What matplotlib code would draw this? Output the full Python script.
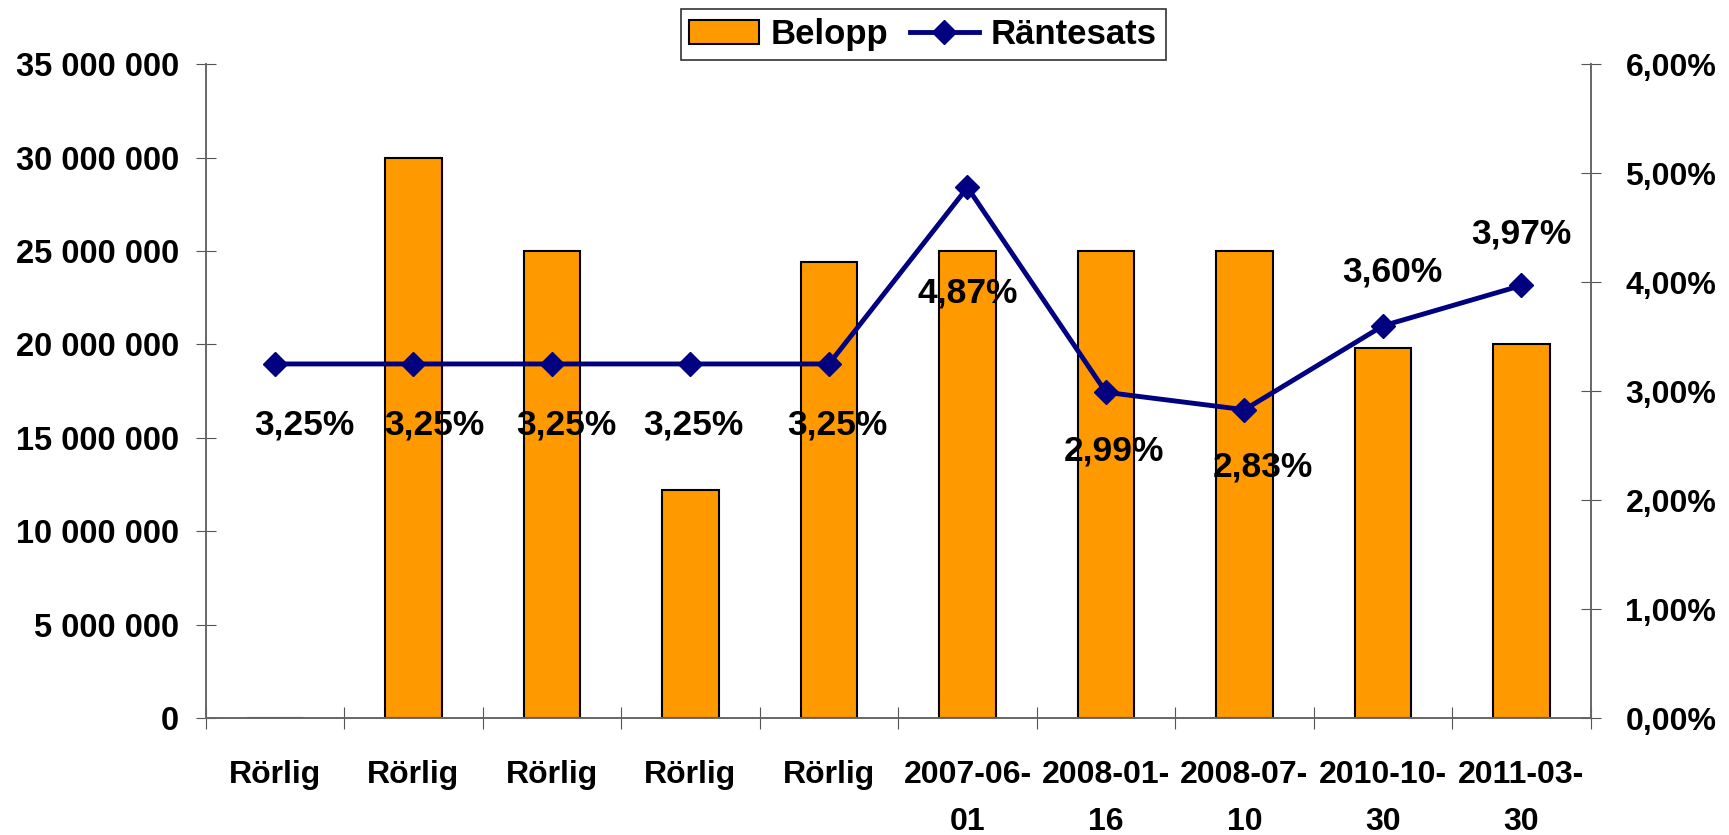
import matplotlib
matplotlib.use('Agg')
import matplotlib.pyplot as plt
from matplotlib.ticker import FuncFormatter

# data
categories = ['Rörlig', 'Rörlig', 'Rörlig', 'Rörlig', 'Rörlig',
              '2007-06-\n01', '2008-01-\n16', '2008-07-\n10', '2010-10-\n30', '2011-03-\n30']
belopp = [0, 30000000, 25000000, 12200000, 24400000,
          25000000, 25000000, 25000000, 19800000, 20000000]
rantesats = [3.25, 3.25, 3.25, 3.25, 3.25, 4.87, 2.99, 2.83, 3.60, 3.97]

# label offsets in points (layout only)
label_offsets = [(21, -44), (15, -44), (10, -44), (2, -44), (6, -44),
                 (0, -76), (6, -42), (13, -41), (7, 39), (0, 37)]

plt.rcParams['font.family'] = ['Liberation Sans', 'DejaVu Sans']
plt.rcParams['font.weight'] = 'bold'

fig = plt.figure(figsize=(17.29, 8.35), dpi=100)
ax = fig.add_axes([0.119, 0.140, 0.801, 0.783])
ax2 = ax.twinx()

x = list(range(len(categories)))
bars = ax.bar(x, belopp, width=0.41, color='#FF9900', edgecolor='black',
              linewidth=1.5, label='Belopp', zorder=2)
line, = ax2.plot(x, rantesats, color='#000080', linewidth=3.5, marker='D',
                 markersize=12, label='Räntesats', zorder=3)

ax.set_xlim(-0.5, len(categories) - 0.5)
ax.set_ylim(0, 35000000)
ax2.set_ylim(0, 6)
ax.set_yticks(range(0, 35000001, 5000000))
ax2.set_yticks(range(0, 7))
ax.yaxis.set_major_formatter(FuncFormatter(lambda v, p: f"{v:,.0f}".replace(',', ' ')))
ax2.yaxis.set_major_formatter(FuncFormatter(lambda v, p: f"{v:.2f}%".replace('.', ',')))

# category boundaries as ticks, labels in the middle
ax.set_xticks([i - 0.5 for i in range(len(categories) + 1)])
ax.set_xticklabels([])
ax.set_xticks(x, minor=True)
ax.set_xticklabels(categories, minor=True, fontsize=23,
                   fontweight='bold', linespacing=1.75, va='top')
ax.tick_params(axis='x', which='minor', length=0, pad=30)
ax.tick_params(axis='x', which='major', direction='inout', length=16,
               width=0.8, color='#555555')

ax.tick_params(axis='y', direction='inout', length=14, width=0.8,
               color='#555555', labelsize=23.5, pad=12)
ax2.tick_params(axis='y', direction='inout', length=14, width=0.8,
                color='#555555', labelsize=23, pad=18)
for a in (ax, ax2):
    for s in a.spines.values():
        s.set_color('#666666')
        s.set_linewidth(1.2)
    a.spines['top'].set_visible(False)
for lbl in ax.get_yticklabels() + ax2.get_yticklabels():
    lbl.set_fontweight('bold')

ax.set_zorder(1)
ax2.set_zorder(2)
ax.patch.set_visible(False)

for xi, val, (dx, dy) in zip(x, rantesats, label_offsets):
    ax2.annotate(f"{val:.2f}%".replace('.', ','), (xi, val), xytext=(dx, dy),
                 textcoords='offset points', ha='center', va='center',
                 fontsize=25.5, fontweight='bold', zorder=4)

leg = fig.legend(handles=[bars, line], labels=['Belopp', 'Räntesats'],
                 loc='upper center', bbox_to_anchor=(0.534, 0.989), ncol=2,
                 fontsize=25, frameon=True, fancybox=False, edgecolor='black',
                 borderpad=0.25, borderaxespad=0, handlelength=2.0,
                 columnspacing=0.6, handletextpad=0.35)
leg.get_frame().set_linewidth(1.2)
for t in leg.get_texts():
    t.set_fontweight('bold')

plt.savefig('out.png', dpi=100)
plt.close(fig)
